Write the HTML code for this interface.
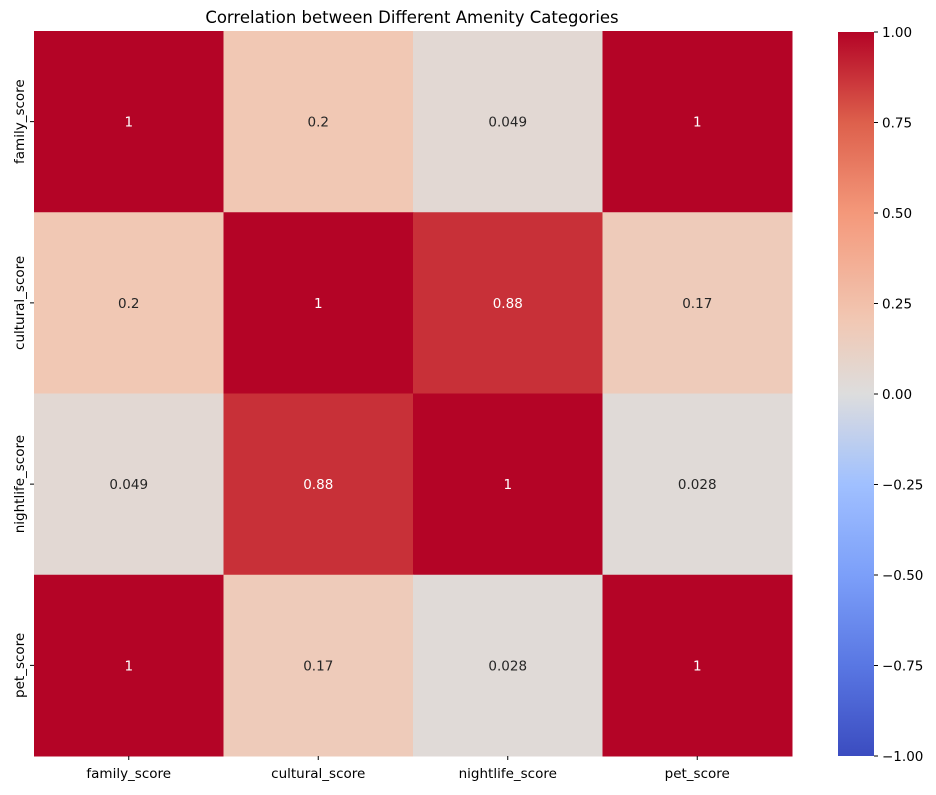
<!DOCTYPE html>
<html><head><meta charset="utf-8"><style>
body{margin:0;background:#fff;font-family:"Liberation Sans","DejaVu Sans",sans-serif;}
</style></head><body>
<svg width="936" height="790" xmlns="http://www.w3.org/2000/svg" font-family="DejaVu Sans, Liberation Sans, sans-serif">
<defs><linearGradient id="cb" x1="0" y1="1" x2="0" y2="0"></linearGradient></defs>
<text x="412" y="23" text-anchor="middle" font-size="16.5">Correlation between Different Amenity Categories</text>
<g id="cells"></g>
<g id="ylab"></g>
<g id="xlab"></g>
<rect x="838" y="32" width="36" height="724" fill="url(#cb)"/>
<g id="cbt"></g>
</svg>
<script>
const categories=["family_score","cultural_score","nightlife_score","pet_score"];
const values=[[1,0.2,0.049,1],[0.2,1,0.88,0.17],[0.049,0.88,1,0.028],[1,0.17,0.028,1]];
const labels=[["1","0.2","0.049","1"],["0.2","1","0.88","0.17"],["0.049","0.88","1","0.028"],["1","0.17","0.028","1"]];
const cbTicks=[1,0.75,0.5,0.25,0,-0.25,-0.5,-0.75,-1];
const cbTickLabels=["1.00","0.75","0.50","0.25","0.00","\u22120.25","\u22120.50","\u22120.75","\u22121.00"];
const stops=[[0,59,76,192],[0.125,89,119,227],[0.25,124,159,249],[0.375,160,192,255],[0.5,221,221,221],[0.6,241,200,180],[0.75,244,152,122],[0.875,221,96,76],[1,180,4,38]];
function cmap(v){const t=(v+1)/2;for(let i=1;i<stops.length;i++){if(t<=stops[i][0]){const a=stops[i-1],b=stops[i],f=(t-a[0])/(b[0]-a[0]);return `rgb(${[1,2,3].map(k=>Math.round(a[k]+(b[k]-a[k])*f)).join(',')})`;}}return 'rgb(180,4,38)';}
const NS="http://www.w3.org/2000/svg";
const X0=34,X1=792,Y0=31,Y1=756;
const n=categories.length,cw=(X1-X0)/n,ch=(Y1-Y0)/n;
function xs(i){return X0+i*cw;} function ys(j){return Y0+j*ch;}
function mk(tag,attrs,parent){const e=document.createElementNS(NS,tag);for(const k in attrs)e.setAttribute(k,attrs[k]);parent.appendChild(e);return e;}
const cells=document.getElementById('cells');
values.forEach((row,j)=>row.forEach((v,i)=>{
 const r=mk('rect',{x:xs(i),y:ys(j),width:cw+0.5,height:ch+0.5,fill:cmap(v)},cells);
 
 
 const t=mk('text',{x:xs(i)+cw/2,y:ys(j)+ch/2+5,'text-anchor':'middle','font-size':'13.5',fill:v>0.6?'#fff':'#262626'},cells);
 t.textContent=labels[j][i];
 
 
}));
const yl=document.getElementById('ylab'),xl=document.getElementById('xlab');
categories.forEach((c,i)=>{
 const cy=ys(i)+ch/2;
 mk('line',{x1:X0-4,x2:X0,y1:cy,y2:cy,stroke:'#000'},yl);
 const t=mk('text',{x:0,y:0,transform:`translate(${X0-10},${cy}) rotate(-90)`,'text-anchor':'middle','font-size':'13.5'},yl);
 t.textContent=c;
 
 
 const cx=xs(i)+cw/2;
 mk('line',{x1:cx,x2:cx,y1:Y1,y2:Y1+4,stroke:'#000'},xl);
 const u=mk('text',{x:cx,y:Y1+22,'text-anchor':'middle','font-size':'13.5'},xl);
 u.textContent=c;
 
 
});
const g=document.getElementById('cb');
for(let k=0;k<=40;k++){const v=-1+2*k/40;mk('stop',{offset:(k/40),'stop-color':cmap(v)},g);}
const cbt=document.getElementById('cbt');
cbTicks.forEach((v,i)=>{
 const y=32+(1-v)/2*724;
 mk('line',{x1:874,x2:878,y1:y,y2:y,stroke:'#000'},cbt);
 const t=mk('text',{x:882,y:y+5,'font-size':'13.5'},cbt);
 t.textContent=cbTickLabels[i];
 
 
});
</script>
</body></html>
